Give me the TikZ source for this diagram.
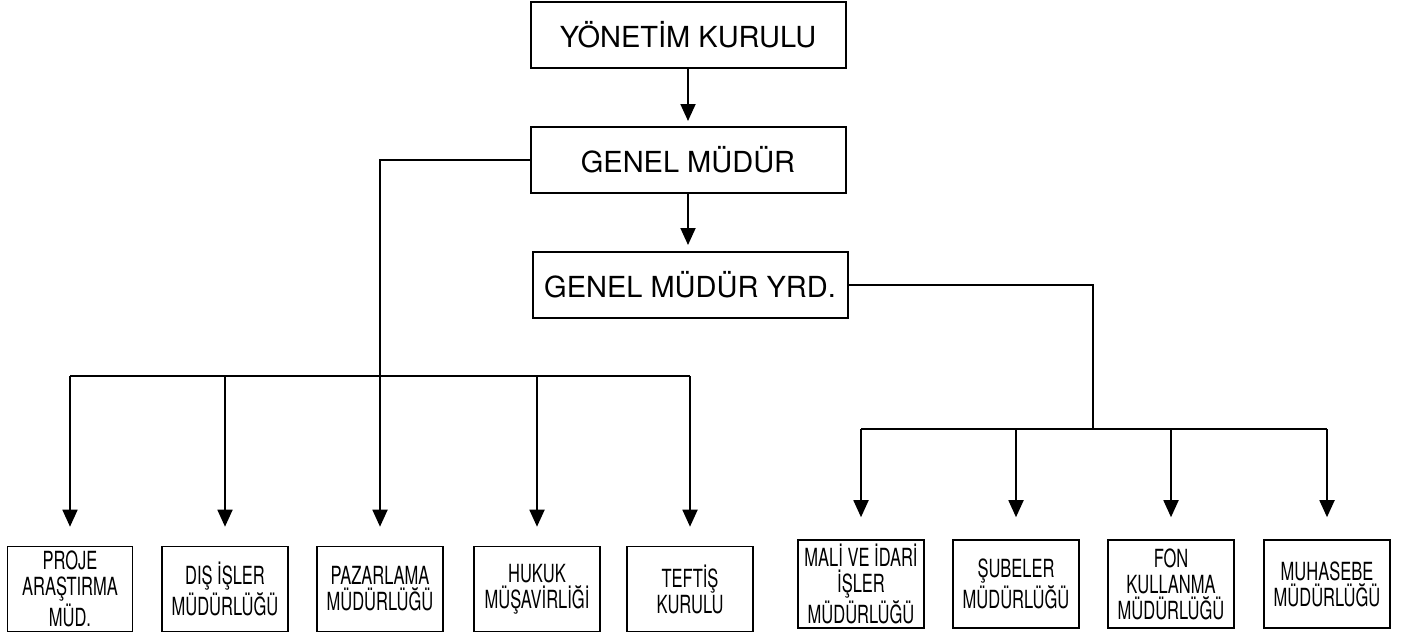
\documentclass[tikz,border=0pt]{standalone}
\usepackage{fontspec}
\setmainfont{TeX Gyre Heros}
\newfontfamily\narrowfont[FakeStretch=0.66]{TeX Gyre Heros}
\usetikzlibrary{arrows.meta}

\tikzset{
  bigbox/.style={draw, line width=1pt, minimum width=157.5pt, minimum height=33pt,
    inner sep=0pt, font=\fontsize{14.5}{17}\selectfont},
  smallbox/.style={draw, line width=0.8pt, minimum width=63pt, minimum height=42.5pt,
    inner sep=0pt, align=center, font=\narrowfont\fontsize{12.5}{13}\selectfont},
  wire/.style={line width=0.9pt},
  arr/.style={wire, -{Triangle[length=8.5pt,width=7.5pt]}},
}

\begin{document}
\begin{tikzpicture}[x=0.5pt,y=-0.5pt]
\useasboundingbox (0,0) rectangle (1411,637);
  \node[bigbox] (yk)  at (688,35)  {YÖNETİM KURULU};
  \node[bigbox] (gm)  at (688,160) {GENEL MÜDÜR};
  \node[bigbox] (gmy) at (690,285) {GENEL MÜDÜR YRD.};
% left row
  \node[smallbox, minimum width=62.5pt] (proje) at (70,589)  {PROJE\\ARAŞTIRMA\\MÜD.};
  \node[smallbox] (dis)    at (225,589) {DIŞ İŞLER\\MÜDÜRLÜĞÜ};
  \node[smallbox] (paz)    at (380,589) {PAZARLAMA\\MÜDÜRLÜĞÜ};
  \node[smallbox] (huk)    at (537,589) {HUKUK\\MÜŞAVİRLİĞİ};
  \node[smallbox] (teftis) at (690,589) {TEFTİŞ\\KURULU};
% right row
  \node[smallbox, minimum height=44pt] (mali) at (861,584)  {MALİ VE İDARİ\\İŞLER\\MÜDÜRLÜĞÜ};
  \node[smallbox, minimum height=44pt] (sube) at (1016,584) {ŞUBELER\\MÜDÜRLÜĞÜ};
  \node[smallbox, minimum height=44pt] (fon)  at (1171,584) {FON\\KULLANMA\\MÜDÜRLÜĞÜ};
  \node[smallbox, minimum height=44pt] (muh)  at (1327,584) {MUHASEBE\\MÜDÜRLÜĞÜ};
  \coordinate (lbus) at (382,376);
  \coordinate (rbus) at (1093,429);

  \draw[arr, shorten >=2.5pt] (yk.south) -- (yk.south |- gm.north);
  \draw[arr, shorten >=3pt] (gm.south) -- (gm.south |- gmy.north);
  \draw[arr, shorten >=9.5pt] (gm.west) -| (paz.north);
  \draw[wire] (lbus -| proje) -- (lbus -| teftis);
  \foreach \b in {proje,dis,huk,teftis}
    \draw[arr, shorten >=9.5pt] (lbus -| \b) -- (\b.north);
  \draw[wire] (gmy.east) -| (rbus);
  \draw[wire] (rbus -| mali) -- (rbus -| muh);
  \foreach \b in {mali,sube,fon,muh}
    \draw[arr, shorten >=11pt] (rbus -| \b) -- (\b.north);
\end{tikzpicture}
\end{document}
